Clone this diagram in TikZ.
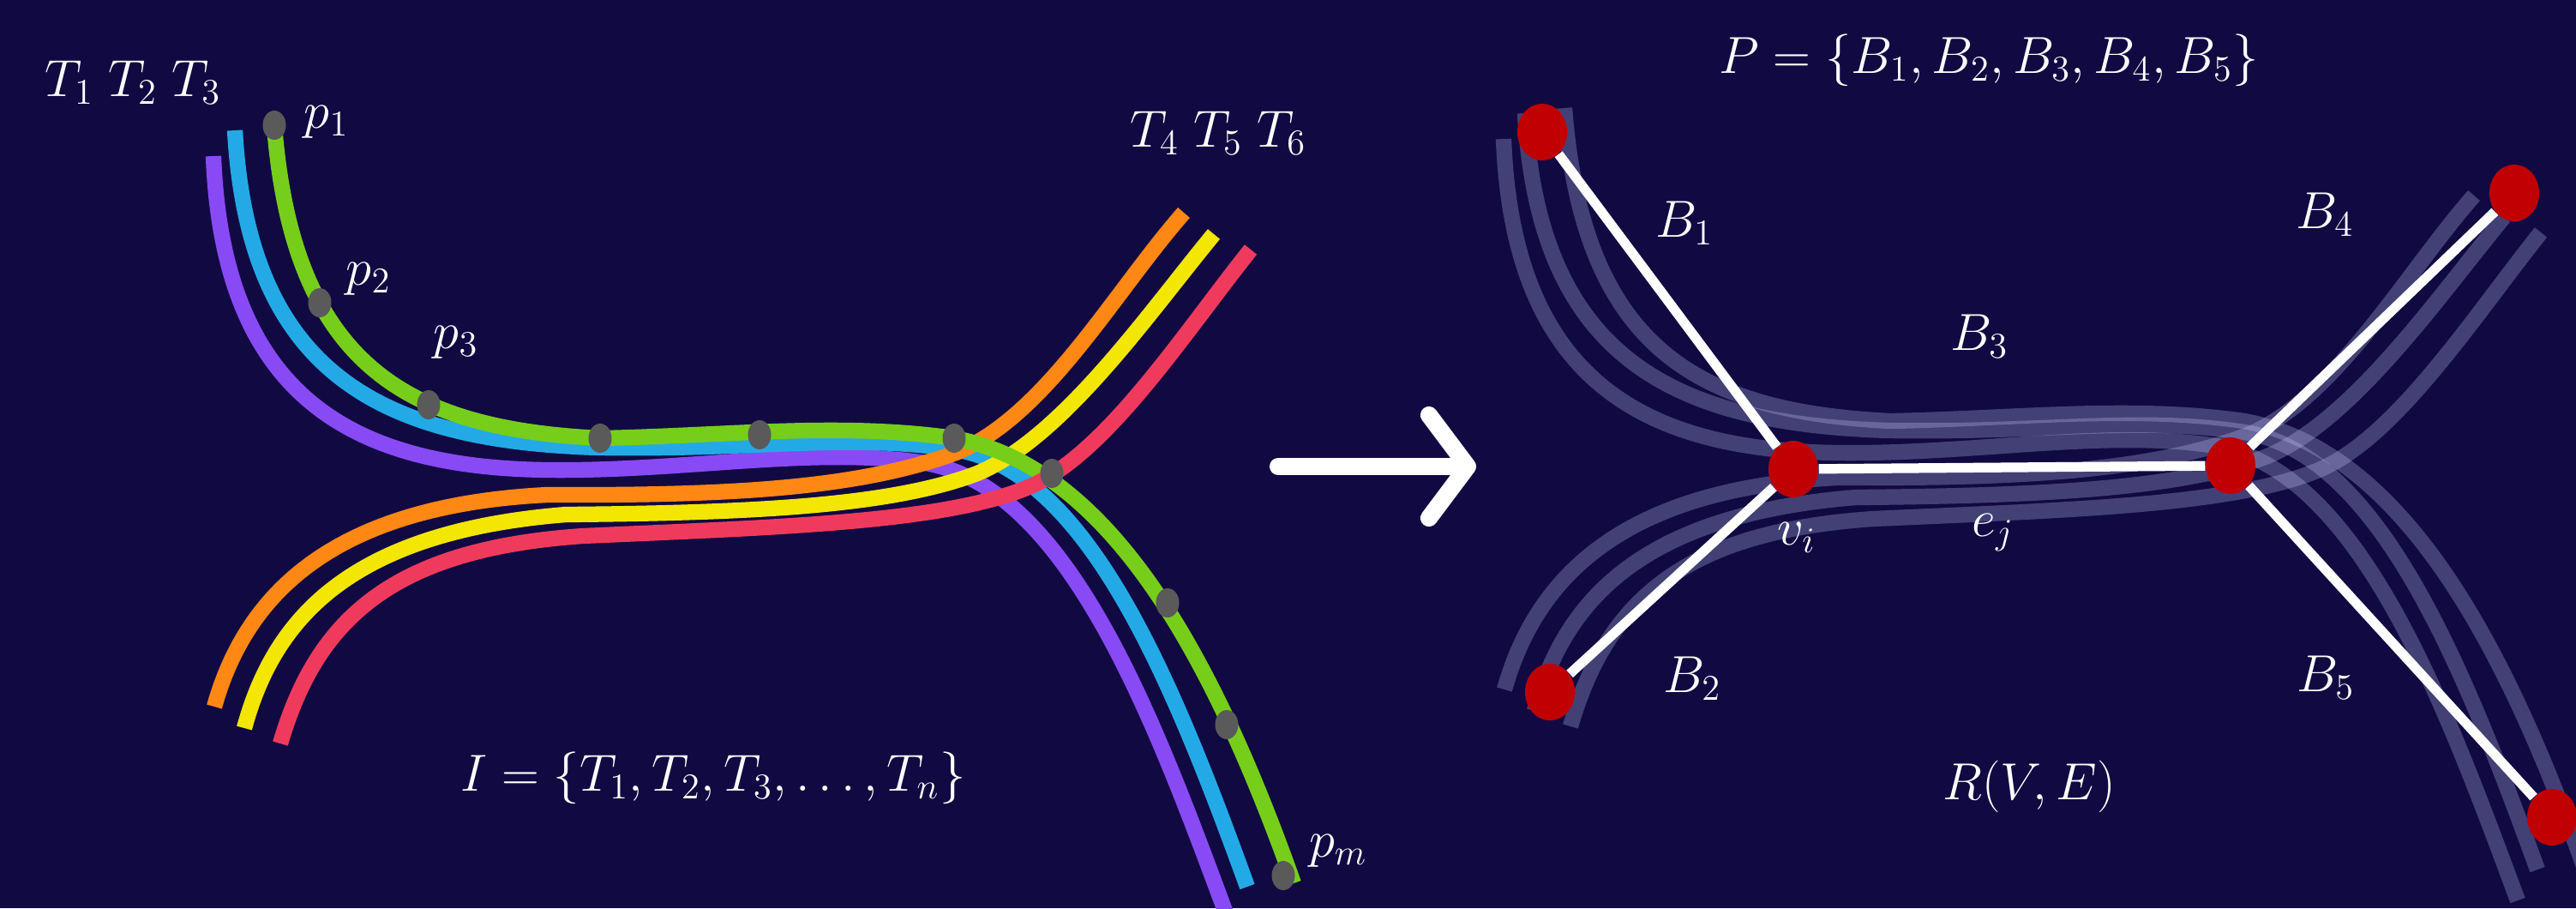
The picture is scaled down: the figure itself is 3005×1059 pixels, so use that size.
\documentclass[tikz,border=0pt]{standalone}
\usepackage{amsmath}
\usetikzlibrary{arrows.meta, shapes.geometric}
\definecolor{bgnavy}{RGB}{17,10,66}
\definecolor{trajgreen}{RGB}{118,206,26}
\definecolor{trajblue}{RGB}{35,170,230}
\definecolor{trajpurple}{RGB}{136,74,245}
\definecolor{trajorange}{RGB}{255,135,20}
\definecolor{trajyellow}{RGB}{243,230,0}
\definecolor{trajred}{RGB}{240,58,92}
\definecolor{dotgray}{RGB}{90,90,90}
\definecolor{nodered}{RGB}{192,0,0}
\definecolor{fadelav}{RGB}{200,205,255}
\tikzset{
  traj/.style={line width=5.2pt},
  faded/.style={line width=5.2pt, draw=fadelav, draw opacity=0.28},
  sample/.style={ellipse, fill=dotgray, minimum width=0.27cm, minimum height=0.34cm, inner sep=0pt},
  vertex/.style={ellipse, fill=nodered, minimum width=0.58cm, minimum height=0.66cm, inner sep=0pt},
  edge/.style={white, line width=3.2pt},
  lbl/.style={text=white, font=\fontsize{18}{22}\selectfont, inner sep=0pt},
  bigarrow/.style={white, line width=5.7pt, line cap=round, -{Straight Barb[length=4.5mm, width=12mm, round]}},
}
% six trajectories T1..T6, one style list each
\newcommand{\bundle}[6]{%
  \draw[#3] (249,182) .. controls (260,470) and (420,545) .. (638,548)
    .. controls (800,550) and (950,520) .. (1080,540)
    .. controls (1250,570) and (1350,850) .. (1432,1070);
  \draw[#2] (274,152) .. controls (290,440) and (450,515) .. (700,522)
    .. controls (880,525) and (990,505) .. (1113,524)
    .. controls (1270,548) and (1370,800) .. (1455,1034);
  \draw[#4] (250,824) .. controls (285,700) and (380,590) .. (638,577)
    .. controls (850,578) and (1000,570) .. (1115,528)
    .. controls (1220,485) and (1300,340) .. (1381,248);
  \draw[#5] (285,849) .. controls (320,720) and (410,620) .. (660,600)
    .. controls (880,598) and (1040,590) .. (1140,552)
    .. controls (1240,510) and (1340,365) .. (1416,273);
  \draw[#1] (320,146) .. controls (342,430) and (480,500) .. (700,511)
    .. controls (850,508) and (980,492) .. (1113,511)
    .. controls (1300,545) and (1420,780) .. (1509,1030);
  \draw[#6] (327,867) .. controls (370,720) and (460,640) .. (680,625)
    .. controls (900,615) and (1100,610) .. (1200,568)
    .. controls (1290,530) and (1380,390) .. (1459,291);
}

\begin{document}
\begin{tikzpicture}[x=0.01cm, y=-0.01cm]
  \fill[bgnavy] (0,0) rectangle (3005,1059);
  \useasboundingbox (0,0) rectangle (3005,1059);
  \clip (0,0) rectangle (3005,1059);

  % input trajectories
  \bundle{traj,trajgreen}{traj,trajblue}{traj,trajpurple}{traj,trajorange}{traj,trajyellow}{traj,trajred}
  \node[sample] (s1) at (320,146) {};
  \node[sample] (s2) at (373,353) {};
  \node[sample] (s3) at (500,472) {};
  \node[sample] (s4) at (700,511) {};
  \node[sample] (s5) at (886,507) {};
  \node[sample] (s6) at (1113,511) {};
  \node[sample] (s7) at (1227,552) {};
  \node[sample] (s8) at (1362,703) {};
  \node[sample] (s9) at (1431,845) {};
  \node[sample] (sm) at (1497,1021) {};

  \node[lbl] (tfirst) at (155,96) {$T_1\;T_2\;T_3$};
  \node[lbl] (tsecond) at (1421,155) {$T_4\;T_5\;T_6$};
  \node[lbl] (lp1) at (381,142) {$p_1$};
  \node[lbl] (lp2) at (430,325) {$p_2$};
  \node[lbl] (lp3) at (532,399) {$p_3$};
  \node[lbl] (lpm) at (1561,992) {$p_m$};
  \node[lbl] (setI) at (832,907) {$I=\{T_1,T_2,T_3,\ldots,T_n\}$};

  % arrow
  \coordinate (arrS) at (1491,544);
  \coordinate (arrE) at (1722,544);
  \draw[bigarrow] (arrS) -- (arrE);

  % road graph over faded trajectories
  \begin{scope}[shift={(1505,-20)}]
    \bundle{faded}{faded}{faded}{faded}{faded}{faded}
  \end{scope}
  \node[vertex] (b1) at (1799,154) {};
  \node[vertex] (b2) at (1808,807) {};
  \node[vertex] (vi) at (2092,547) {};
  \node[vertex] (vj) at (2602,543) {};
  \node[vertex] (b4) at (2933,225) {};
  \node[vertex] (b5) at (2977,953) {};
  \draw[edge] (b1) -- (vi);
  \draw[edge] (b2) -- (vi);
  \draw[edge] (vi) -- (vj);
  \draw[edge] (vj) -- (b4);
  \draw[edge] (vj) -- (b5);

  \node[lbl] (setP) at (2320,70) {$P=\{B_1,B_2,B_3,B_4,B_5\}$};
  \node[lbl] (lb1) at (1965,260) {$B_1$};
  \node[lbl] (lb2) at (1974,791) {$B_2$};
  \node[lbl] (lb3) at (2309,392) {$B_3$};
  \node[lbl] (lb4) at (2712,250) {$B_4$};
  \node[lbl] (lb5) at (2713,790) {$B_5$};
  \node[lbl] (lvi) at (2096,627) {$v_i$};
  \node[lbl] (lej) at (2325,621) {$e_j$};
  \node[lbl] (graphR) at (2367,917) {$R(V,E)$};
\end{tikzpicture}
\end{document}
